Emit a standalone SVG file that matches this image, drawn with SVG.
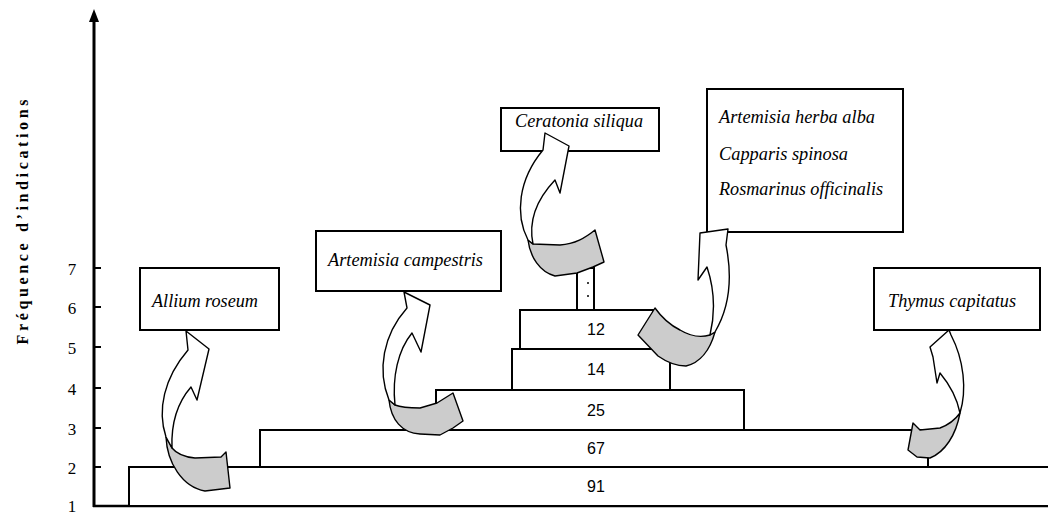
<svg xmlns="http://www.w3.org/2000/svg" width="1048" height="516" viewBox="0 0 1048 516">
<style>
.step{fill:#fff;stroke:#000;stroke-width:2}
.box{fill:#fff;stroke:#000;stroke-width:2}
.num{font-family:"Liberation Sans",Arial,sans-serif;font-size:16px;text-anchor:middle;fill:#000}
.lab{font-family:"Liberation Serif","Times New Roman",serif;font-style:italic;font-size:19px;fill:#000}
.tick{font-family:"Liberation Serif","Times New Roman",serif;font-size:17px;text-anchor:middle;fill:#000}
.gray{fill:#cccccc;stroke:#000;stroke-width:1.4;stroke-linejoin:round}
.white{fill:#fff;stroke:#000;stroke-width:1.4;stroke-linejoin:round}
</style>
<rect width="1048" height="516" fill="#fff"/>
<g id="axes">
<line x1="94" y1="20" x2="94" y2="507" stroke="#000" stroke-width="3"/>
<polygon points="94,9 89,22 99,22" fill="#000"/>
<line x1="93" y1="506" x2="1048" y2="506" stroke="#000" stroke-width="2.5"/>
<g stroke="#000" stroke-width="2">
<line x1="94" y1="268" x2="101" y2="268"/>
<line x1="94" y1="307" x2="101" y2="307"/>
<line x1="94" y1="347" x2="101" y2="347"/>
<line x1="94" y1="388" x2="101" y2="388"/>
<line x1="94" y1="428" x2="101" y2="428"/>
<line x1="94" y1="467" x2="101" y2="467"/>
</g>
<text class="tick" x="72" y="275">7</text>
<text class="tick" x="72" y="314">6</text>
<text class="tick" x="72" y="354">5</text>
<text class="tick" x="72" y="395">4</text>
<text class="tick" x="72" y="435">3</text>
<text class="tick" x="72" y="474">2</text>
<text class="tick" x="72" y="512">1</text>
<text transform="translate(28,222) rotate(-90)" text-anchor="middle" font-family="Liberation Serif,Times New Roman,serif" font-size="16" font-weight="bold" textLength="245" lengthAdjust="spacing">Fréquence d’indications</text>
</g>
<g id="steps">
<g id="step91"><rect class="step" x="129" y="467" width="940" height="39"/><text class="num" x="596" y="492">91</text></g>
<g id="step67"><rect class="step" x="260" y="430" width="668" height="37"/><text class="num" x="596" y="454">67</text></g>
<g id="step25"><rect class="step" x="436" y="390" width="308" height="40"/><text class="num" x="596" y="416">25</text></g>
<g id="step14"><rect class="step" x="512" y="349" width="158" height="41"/><text class="num" x="596" y="375">14</text></g>
<g id="step12"><rect class="step" x="520" y="310" width="133" height="39"/><text class="num" x="596" y="335">12</text></g>
<g id="stepTop"><rect class="step" x="577" y="268" width="17" height="42"/><circle cx="588" cy="283" r="1" fill="#000"/><circle cx="588" cy="296" r="1" fill="#000"/></g>
</g>
<g id="labels">
<g id="allium"><rect class="box" x="140" y="268" width="139" height="62"/><text class="lab" x="152" y="307" textLength="106" lengthAdjust="spacingAndGlyphs">Allium roseum</text></g>
<g id="campestris"><rect class="box" x="316" y="231" width="185" height="60"/><text class="lab" x="328" y="266" textLength="155" lengthAdjust="spacingAndGlyphs">Artemisia campestris</text></g>
<g id="ceratonia"><rect class="box" x="501" y="108" width="158" height="43"/><text class="lab" x="515" y="127" textLength="128" lengthAdjust="spacingAndGlyphs">Ceratonia siliqua</text></g>
<g id="herba"><rect class="box" x="707" y="89" width="196" height="143"/>
<text class="lab" x="719" y="123" textLength="156" lengthAdjust="spacingAndGlyphs">Artemisia herba alba</text>
<text class="lab" x="719" y="160" textLength="129" lengthAdjust="spacingAndGlyphs">Capparis spinosa</text>
<text class="lab" x="719" y="195" textLength="164" lengthAdjust="spacingAndGlyphs">Rosmarinus officinalis</text></g>
<g id="thymus"><rect class="box" x="874" y="268" width="166" height="62"/><text class="lab" x="888" y="307" textLength="128" lengthAdjust="spacingAndGlyphs">Thymus capitatus</text></g>
</g>
<g id="connectors">
<g id="arrow-allium">
<path class="gray" d="M166,437 C167,462 182,487 205,491 L230,488 L226,452 L221,457 L195,458 C184,457 176,453 172,448 Z"/>
<path class="white" d="M166,437 C157,410 164,378 188,350 L186,331 L209,349 L197,400 L191,387 C178,402 171,423 172,448 Z"/>
</g>
<g id="arrow-campestris">
<path class="gray" d="M389,400 C391,420 402,433 420,434 L440,435 L453,428 L463,421 L453,393 L437,403 L420,408 C408,408 400,407 395,405 Z"/>
<path class="white" d="M389,400 C377,370 383,335 407,308 L404,292 L430,305 L421,352 L412,333 C398,350 392,377 395,405 Z"/>
</g>
<g id="arrow-ceratonia">
<path class="gray" d="M528,240 C530,257 540,272 555,276 L577,273 L593,267 L604,262 L595,230 C585,238 575,244 560,245 L533,244 Z"/>
<path class="white" d="M528,240 C515,215 518,180 543,150 L545,133 L569,146 L560,193 L555,180 C538,198 528,220 533,244 Z"/>
</g>
<g id="arrow-herba">
<path class="gray" d="M655,308 L638,335 L658,356 C668,363 676,366 686,366 C700,363 710,350 715,332 L710,335 C700,338 690,336 680,330 C670,325 662,318 655,308 Z"/>
<path class="white" d="M715,332 C728,310 733,280 726,245 L728,229 L700,233 L698,280 L707,267 C713,285 716,310 710,335 Z"/>
</g>
<g id="arrow-thymus">
<path class="gray" d="M913,423 L908,450 L917,457 L930,458 C945,452 956,435 960,413 C955,420 948,425 940,428 L920,430 Z"/>
<path class="white" d="M960,413 C967,390 964,360 951,335 L949,330 L930,347 L933,357 L937,383 L940,373 C950,385 957,398 960,413 Z"/>
</g>
</g>
</svg>
